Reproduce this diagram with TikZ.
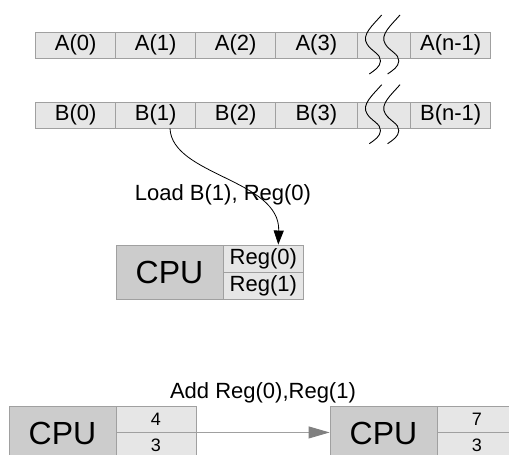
\documentclass[tikz,border=0pt]{standalone}
\usepackage{fontspec}
\setmainfont{Liberation Sans}
\usetikzlibrary{arrows.meta}
\definecolor{cellfill}{HTML}{E6E6E6}
\definecolor{cpufill}{HTML}{CCCCCC}
\definecolor{edgegray}{HTML}{A0A0A0}
\definecolor{arrowgray}{HTML}{808080}
\tikzset{
  cell/.style={draw=edgegray, line width=0.9pt, fill=cellfill, inner sep=0pt,
    minimum height=26pt, font=\fontsize{22}{26}\selectfont},
  cpubox/.style={draw=edgegray, line width=0.9pt, fill=cpufill, inner sep=0pt,
    minimum width=107pt, minimum height=54pt, font=\fontsize{32}{36}\selectfont},
  regcell/.style={draw=edgegray, line width=0.9pt, fill=cellfill, inner sep=0pt,
    minimum width=80pt, minimum height=27pt, font=\fontsize{22}{26}\selectfont},
  numcell/.style={draw=edgegray, line width=0.9pt, fill=cellfill, inner sep=0pt,
    minimum width=80pt, minimum height=26pt, font=\fontsize{18}{22}\selectfont},
  lbl/.style={inner sep=0pt, font=\fontsize{22}{26}\selectfont},
  squig/.style={draw=black, line width=0.9pt},
}
\begin{document}
\begin{tikzpicture}[x=1pt,y=-1pt]
\clip (0,0) rectangle (509,455);
\fill[white] (0,0) rectangle (509,455);
% Array A
\node[cell, minimum width=80pt] (a0) at (75.7,45.3) {A(0)};
\node[cell, minimum width=80pt] (a1) at (155.7,45.3) {A(1)};
\node[cell, minimum width=80pt] (a2) at (235.7,45.3) {A(2)};
\node[cell, minimum width=81.3pt] (a3) at (316.35,45.3) {A(3)};
\node[cell, minimum width=53.7pt] (ag) at (383.85,45.3) {};
\node[cell, minimum width=80pt] (an) at (450.7,45.3) {A(n-1)};
% Array B
\node[cell, minimum width=80pt] (b0) at (75.7,115) {B(0)};
\node[cell, minimum width=80pt] (b1) at (155.7,115) {B(1)};
\node[cell, minimum width=80pt] (b2) at (235.7,115) {B(2)};
\node[cell, minimum width=81.3pt] (b3) at (316.35,115) {B(3)};
\node[cell, minimum width=53.7pt] (bg) at (383.85,115) {};
\node[cell, minimum width=80pt] (bn) at (450.7,115) {B(n-1)};
% break marks
\foreach \dy in {0,69.7}{
  \foreach \dx in {0,18.3}{
    \draw[squig, shift={(\dx,\dy)}] (381.7,15) .. controls (373,25) and (361,35) .. (367,44)
      .. controls (371,51) and (381,54) .. (380.5,61) .. controls (380,67) and (375,70) .. (369.3,74);
  }
}
% CPU with registers
\node[cpubox] (cpu) at (169.5,272) {CPU};
\node[regcell] (r0) at (263.3,258.5) {Reg(0)};
\node[regcell] (r1) at (263.3,285.5) {Reg(1)};
% load arrow
\draw[line width=0.8pt, -{Triangle[length=14pt,width=10pt]}]
  ([xshift=14.3pt]b1.south) .. controls +(2,47) and +(2,-65) .. ([xshift=15pt]r0.north);
\node[lbl] (loadlbl) at (223,195) {Load B(1), Reg(0)};
% bottom: before
\node[cpubox] (cpuA) at (62.5,433) {CPU};
\node[numcell] (x0) at (156,419) {4};
\node[numcell] (x1) at (156,445) {3};
% bottom: after
\node[cpubox] (cpuB) at (383.5,433) {CPU};
\node[numcell] (y0) at (477,419) {7};
\node[numcell] (y1) at (477,445) {3};
% add arrow
\draw[draw=edgegray, line width=0.9pt, -{Triangle[length=21pt,width=12pt,fill=arrowgray,color=arrowgray]}]
  (x0.south east) -- (cpuB.west |- x0.south east);
\node[lbl] (addlbl) at (263,393) {Add Reg(0),Reg(1)};
\end{tikzpicture}
\end{document}
